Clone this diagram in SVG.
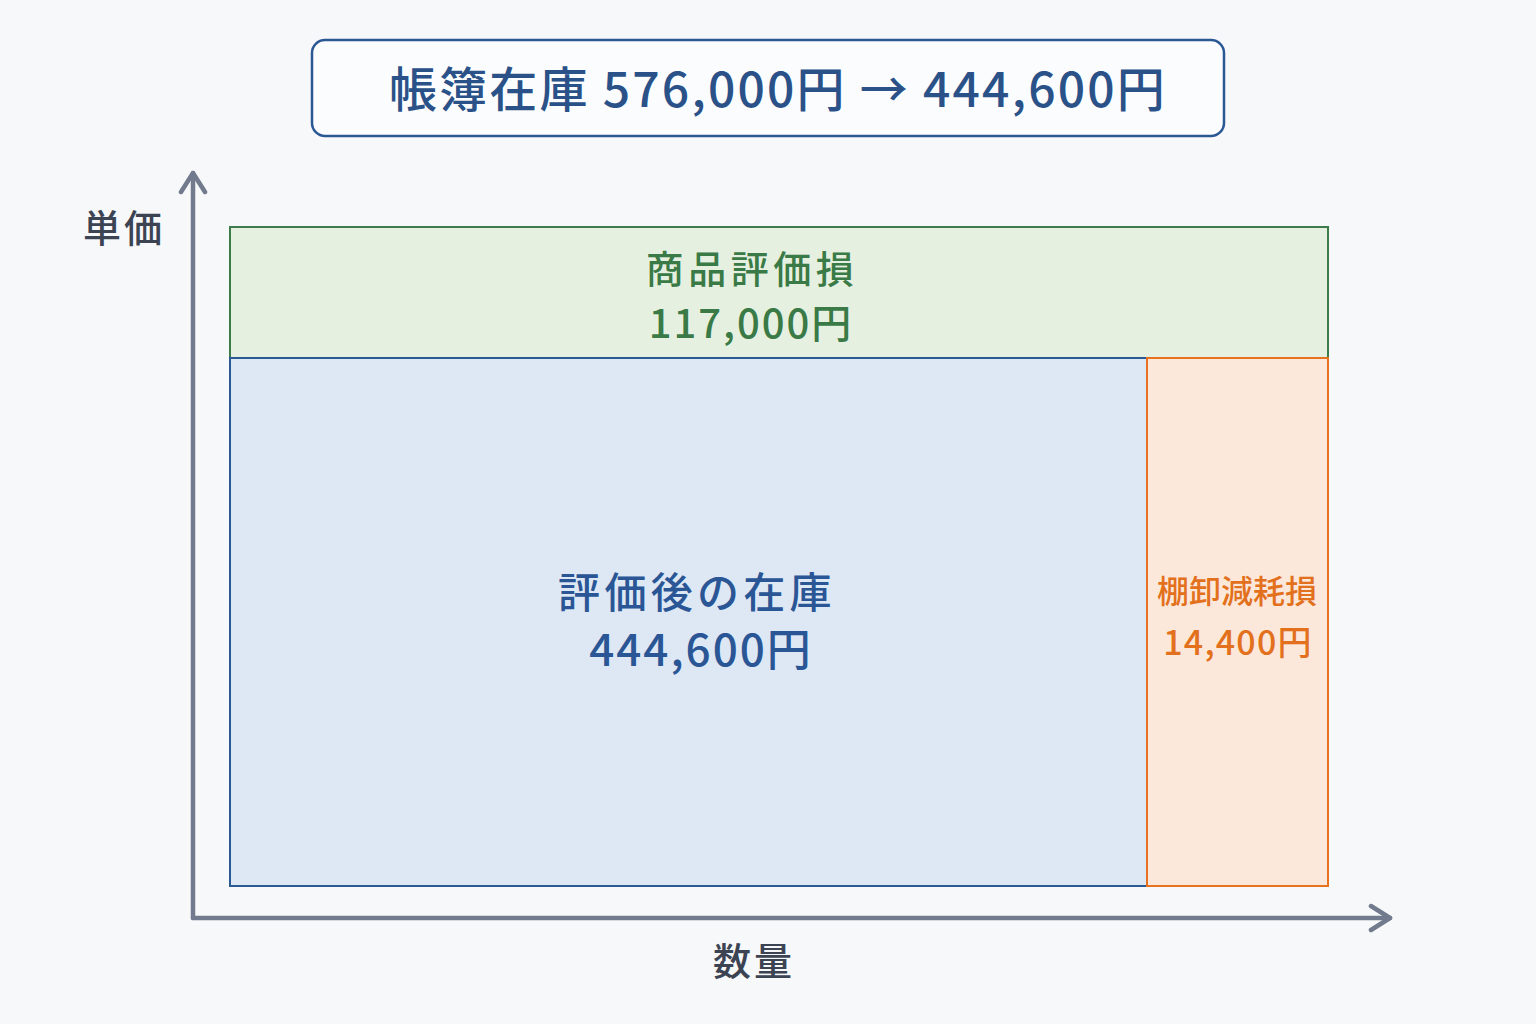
<svg xmlns="http://www.w3.org/2000/svg" width="1536" height="1024" viewBox="0 0 1536 1024">
<defs>
<style>
text{font-family:"Noto Sans CJK JP","Noto Sans",sans-serif;font-weight:500;text-anchor:middle}
.axis{stroke:#717b8d;stroke-width:4.5;fill:none;stroke-linecap:round;stroke-linejoin:round}
.title{fill:#2a5289;font-size:48px;letter-spacing:2.2px}
.axlab{fill:#3c4454;font-size:38px;letter-spacing:3px}
.g{fill:#3a7a46}
.b{fill:#2a5696}
.o{fill:#e2701c}
</style>
<marker id="ah" viewBox="0 0 30 30" refX="26" refY="15" markerWidth="30" markerHeight="30" markerUnits="userSpaceOnUse" orient="auto">
<path d="M7,3 L26,15 L7,27" fill="none" stroke="#717b8d" stroke-width="4.5" stroke-linecap="round" stroke-linejoin="round"/>
</marker>
</defs>
<rect width="1536" height="1024" fill="#f7f8f9"/>
<g id="title">
<rect x="312" y="40" width="912" height="96" rx="13" fill="#fbfcfd" stroke="#2b5895" stroke-width="2.5"/>
<text class="title" x="778" y="107">帳簿在庫 576,000円 → 444,600円</text>
</g>
<g id="connectors">
<line class="axis" x1="193" y1="918" x2="193" y2="173" marker-end="url(#ah)"/>
<line class="axis" x1="193" y1="918" x2="1390" y2="918" marker-end="url(#ah)"/>
</g>
<g id="axis-labels">
<text class="axlab" x="124" y="242">単価</text>
<text class="axlab" x="754" y="975">数量</text>
</g>
<g id="valuation-loss">
<rect x="230" y="227" width="1098" height="131" fill="#e6f0e1" stroke="#3e7b4a" stroke-width="2"/>
<text class="g" x="752" y="283" font-size="38" letter-spacing="4.5">商品評価損</text>
<text class="g" x="751" y="338" font-size="40" letter-spacing="2">117,000円</text>
</g>
<g id="inventory-after">
<rect x="230" y="358" width="917" height="528" fill="#dee8f5" stroke="#2a5a94" stroke-width="2"/>
<text class="b" x="697" y="608" font-size="42" letter-spacing="4.3">評価後の在庫</text>
<text class="b" x="701" y="666" font-size="44" letter-spacing="2">444,600円</text>
</g>
<g id="shrinkage-loss">
<rect x="1147" y="358" width="181" height="528" fill="#fce8da" stroke="#e8711f" stroke-width="2"/>
<text class="o" x="1237" y="603" font-size="32">棚卸減耗損</text>
<text class="o" x="1238" y="655" font-size="34" letter-spacing="1.2">14,400円</text>
</g>
</svg>
